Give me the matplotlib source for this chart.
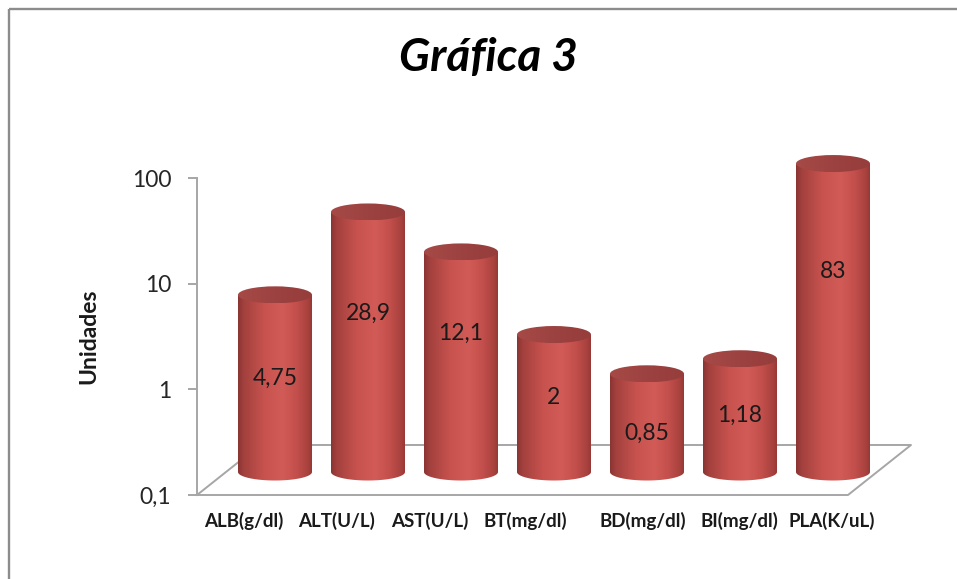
import numpy as np
import matplotlib
matplotlib.use("Agg")
import matplotlib.pyplot as plt
from matplotlib.colors import LinearSegmentedColormap
from matplotlib.patches import Polygon, Ellipse
from matplotlib.ticker import NullLocator

# ---- data ----
categories = ["ALB(g/dl)", "ALT(U/L)", "AST(U/L)", "BT(mg/dl)",
              "BD(mg/dl)", "BI(mg/dl)", "PLA(K/uL)"]
values = [4.75, 28.9, 12.1, 2, 0.85, 1.18, 83]
value_labels = ["4,75", "28,9", "12,1", "2", "0,85", "1,18", "83"]
y_ticks = [0.1, 1, 10, 100]
y_tick_labels = ["0,1", "1", "10", "100"]

# ---- layout / style ----
W, H = 957, 579
FONT = "Lato"
tick_nudge = [0.0, 0.0, 0.0, 0.03, 0.29, 0.33, 0.33]   # category label shifts
label_frac = [0.53, 0.61, 0.63, 0.54, 0.39, 0.50, 0.65]  # value label height in bar
depth = (63, 50)          # floor depth in pixels (x, y)
bar_w, cap_h = 74, 17     # cylinder width and ellipse height in pixels
grid_col = "#A6A6A6"

plt.rcParams["font.family"] = [FONT, "DejaVu Sans"]

fig = plt.figure(figsize=(W / 100, H / 100), dpi=100)
fig.patch.set_facecolor("white")

ax = fig.add_axes([197 / W, 84 / H, 651 / W, 317 / H])
ax.set_yscale("log")
ax.set_ylim(0.1, 100)
ax.set_xlim(-0.5, 6.5)
ax.patch.set_visible(False)
for s in ("top", "right", "bottom"):
    ax.spines[s].set_visible(False)
ax.spines["left"].set_color(grid_col)
ax.spines["left"].set_linewidth(1.4)
ax.set_yticks(y_ticks, y_tick_labels)
ax.yaxis.set_minor_locator(NullLocator())
ax.tick_params(axis="y", length=6.5, width=1.4, color=grid_col, pad=12,
               labelsize=16.5, labelcolor="#262626")
ax.set_xticks(np.arange(len(categories)) + np.array(tick_nudge), categories)
for t in ax.get_xticklabels():
    t.set_fontweight("bold")
ax.tick_params(axis="x", length=0, pad=12, labelsize=13.5, labelcolor="#1a1a1a")

fig.text(89 / W, 1 - 336 / H, "Unidades", rotation=90, ha="center",
         va="center", fontsize=16.5, fontweight="bold", color="#1a1a1a")
fig.text(488 / W, 1 - 58 / H, "Gráfica 3", ha="center", va="center",
         fontsize=33, fontweight="bold", fontstyle="italic", color="black")

# overlay in pixel coordinates for the 3D-looking floor and cylinders
ov = fig.add_axes([0, 0, 1, 1], zorder=5)
ov.set_xlim(0, W)
ov.set_ylim(0, H)
ov.set_autoscale_on(False)
ov.axis("off")
ov.patch.set_visible(False)

# chart frame
ov.plot([9, 9], [-5, H - 9], color="#8C8C8C", lw=1.7, solid_capstyle="butt")
ov.plot([9, W + 5], [H - 9, H - 9], color="#8C8C8C", lw=1.7, solid_capstyle="butt")

# floor
f0 = ax.transData.transform((-0.5, 0.1))
f1 = ax.transData.transform((6.5, 0.1))
dx, dy = depth
fx = [f0[0], f1[0], f1[0] + dx, f0[0] + dx, f0[0]]
fy = [f0[1], f1[1], f1[1] + dy, f0[1] + dy, f0[1]]
ov.plot(fx, fy, color=grid_col, lw=1.4, zorder=1)

body_cmap = LinearSegmentedColormap.from_list("cyl", [
    (0.0, "#8A3533"), (0.08, "#A3413E"), (0.35, "#C7524E"),
    (0.6, "#D25B57"), (0.8, "#C24F4B"), (0.95, "#A8413E"), (1.0, "#953A37")])
cap_cmap = LinearSegmentedColormap.from_list("cap", ["#A64A47", "#9C4240", "#963E3C"])
grad = np.linspace(0, 1, 256).reshape(1, -1)

for i, v in enumerate(values):
    bx, ytop = ax.transData.transform((i, v))
    _, ybase = ax.transData.transform((i, 0.1))
    cx = bx + dx / 2
    yt = ytop + dy / 2 - 2
    yb = ybase + dy / 2 - 2
    l, r = cx - bar_w / 2, cx + bar_w / 2
    th = np.linspace(np.pi, 2 * np.pi, 60)
    arc = np.column_stack([cx + bar_w / 2 * np.cos(th), yb + cap_h / 2 * np.sin(th)])
    verts = np.vstack([[l, yt], [l, yb], arc, [r, yb], [r, yt]])
    body = Polygon(verts, closed=True, facecolor="none", edgecolor="none")
    ov.add_patch(body)
    im = ov.imshow(grad, cmap=body_cmap, extent=[l, r, yb - cap_h / 2, yt],
                   aspect="auto", origin="lower", zorder=3, interpolation="bilinear")
    im.set_clip_path(body)
    cap = Ellipse((cx, yt), bar_w, cap_h, facecolor="none", edgecolor="none")
    ov.add_patch(cap)
    im2 = ov.imshow(grad, cmap=cap_cmap, extent=[l, r, yt - cap_h / 2, yt + cap_h / 2],
                    aspect="auto", origin="lower", zorder=4, interpolation="bilinear")
    im2.set_clip_path(cap)
    ly = yb + label_frac[i] * (yt - yb)
    ov.text(cx, ly, value_labels[i], ha="center", va="center", fontsize=16.5,
            color="#1a1a1a", zorder=6)

ov.set_xlim(0, W)
ov.set_ylim(0, H)

fig.savefig("out.png", dpi=100)
